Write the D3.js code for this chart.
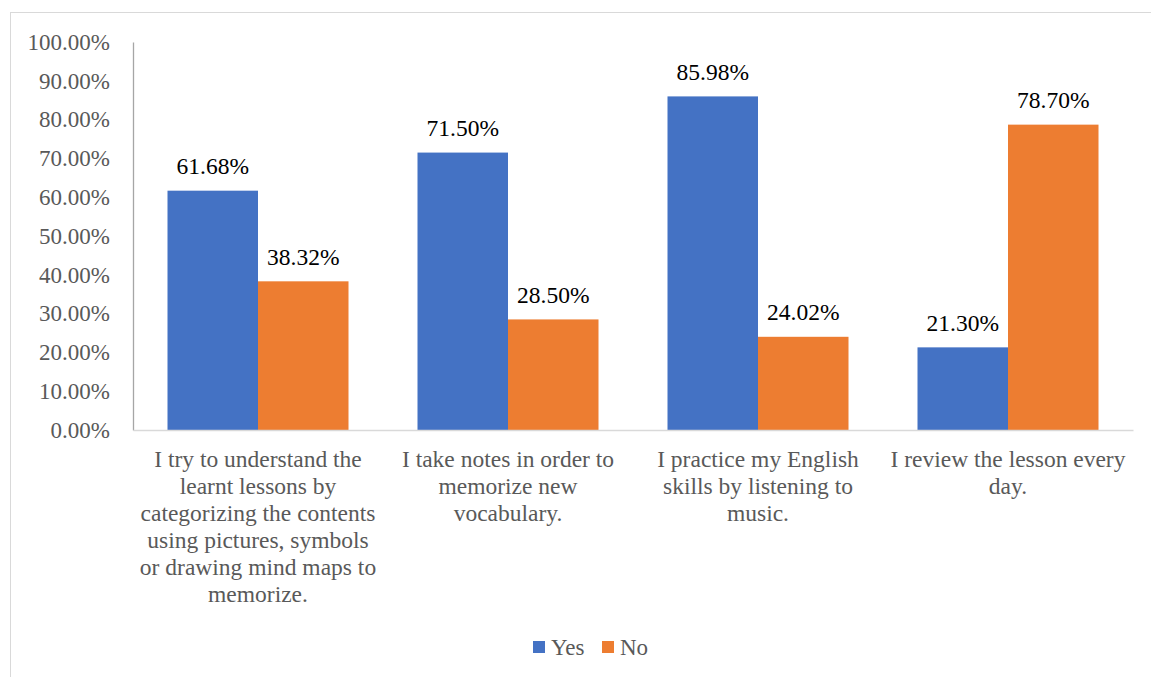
<!DOCTYPE html>
<html>
<head>
<meta charset="utf-8">
<script src="https://cdn.jsdelivr.net/npm/d3@7"></script>
<style>
  html, body { margin: 0; padding: 0; background: #fff; }
  svg { display: block; font-family: "Liberation Serif", "Times New Roman", serif; }
</style>
</head>
<body>
<svg id="chart" width="1151" height="677"></svg>
<script>
// Survey responses per statement (percent of respondents)
const categories = [
  "I try to understand the learnt lessons by categorizing the contents using pictures, symbols or drawing mind maps to memorize.",
  "I take notes in order to memorize new vocabulary.",
  "I practice my English skills by listening to music.",
  "I review the lesson every day."
];
// Wrapped lines for each category label
const categoryLines = [
  ["I try to understand the", "learnt lessons by", "categorizing the contents", "using pictures, symbols", "or drawing mind maps to", "memorize."],
  ["I take notes in order to", "memorize new", "vocabulary."],
  ["I practice my English", "skills by listening to", "music."],
  ["I review the lesson every", "day."]
];
const seriesNames = ["Yes", "No"];
const yesValues = [61.68, 71.50, 85.98, 21.30];
const noValues = [38.32, 28.50, 24.02, 78.70];
const yTicks = [0, 10, 20, 30, 40, 50, 60, 70, 80, 90, 100];
const colors = ["#4472C4", "#ED7D31"];

const svg = d3.select("#chart");

// Outer chart-area frame
svg.append("rect")
  .attr("x", 10.5).attr("y", 12.5)
  .attr("width", 1160).attr("height", 700)
  .attr("fill", "#fff").attr("stroke", "#d9d9d9").attr("stroke-width", 1);

const plot = { left: 133, right: 1133, top: 42, bottom: 430 };

const x0 = d3.scaleBand()
  .domain(categories)
  .range([plot.left, plot.right])
  .paddingInner(0.276)
  .paddingOuter(0.138);

const x1 = d3.scaleBand()
  .domain(seriesNames)
  .range([0, x0.bandwidth()]);

const y = d3.scaleLinear().domain([0, 100]).range([plot.bottom, plot.top]);

const data = categories.map((c, i) => ({
  category: c,
  values: [
    { series: "Yes", value: yesValues[i] },
    { series: "No", value: noValues[i] }
  ]
}));

// Y axis labels
const yAxis = d3.axisLeft(y)
  .tickValues(yTicks)
  .tickSize(0)
  .tickPadding(23)
  .tickFormat(d => d.toFixed(2) + "%");

const gy = svg.append("g")
  .attr("transform", `translate(${plot.left},0)`)
  .call(yAxis);
gy.select(".domain").attr("stroke", "#a6a6a6").attr("stroke-width", 1.3);
gy.selectAll("text")
  .attr("fill", "#595959")
  .style("font-size", "23px")
  .style("font-family", "'Liberation Serif', serif");

// Bars
const groups = svg.append("g").selectAll("g")
  .data(data)
  .join("g")
  .attr("transform", d => `translate(${x0(d.category)},0)`);

groups.selectAll("rect")
  .data(d => d.values)
  .join("rect")
  .attr("x", d => x1(d.series))
  .attr("y", d => y(d.value))
  .attr("width", x1.bandwidth())
  .attr("height", d => y(0) - y(d.value))
  .attr("fill", (d, i) => colors[i]);

// Value labels
groups.selectAll("text.val")
  .data(d => d.values)
  .join("text")
  .attr("class", "val")
  .attr("x", d => x1(d.series) + x1.bandwidth() / 2)
  .attr("y", d => y(d.value) - 16.5)
  .attr("text-anchor", "middle")
  .attr("fill", "#000")
  .style("font-size", "23.5px")
  .text(d => d.value.toFixed(2) + "%");

// X axis baseline
const xAxis = d3.axisBottom(x0).tickSize(0).tickFormat("");
const gx = svg.append("g")
  .attr("transform", `translate(0,${plot.bottom})`)
  .call(xAxis);
gx.select(".domain").attr("stroke", "#d9d9d9").attr("stroke-width", 1.3);

// Category labels (wrapped)
const lineHeight = 27;
svg.append("g").selectAll("text")
  .data(categories)
  .join("text")
  .attr("x", d => x0(d) + x0.bandwidth() / 2)
  .attr("y", 467)
  .attr("text-anchor", "middle")
  .attr("fill", "#595959")
  .style("font-size", "23.5px")
  .each(function (d, i) {
    d3.select(this).selectAll("tspan")
      .data(categoryLines[i])
      .join("tspan")
      .attr("x", x0(d) + x0.bandwidth() / 2)
      .attr("dy", (t, j) => j === 0 ? 0 : lineHeight)
      .text(t => t);
  });

// Legend
const legend = svg.append("g").attr("transform", "translate(533,641)");
const items = legend.selectAll("g")
  .data(seriesNames)
  .join("g")
  .attr("transform", (d, i) => `translate(${i * 69},0)`);
items.append("rect")
  .attr("width", 12).attr("height", 12)
  .attr("fill", (d, i) => colors[i]);
items.append("text")
  .attr("x", 18).attr("y", 14)
  .attr("fill", "#595959")
  .style("font-size", "23px")
  .text(d => d);
</script>
</body>
</html>
